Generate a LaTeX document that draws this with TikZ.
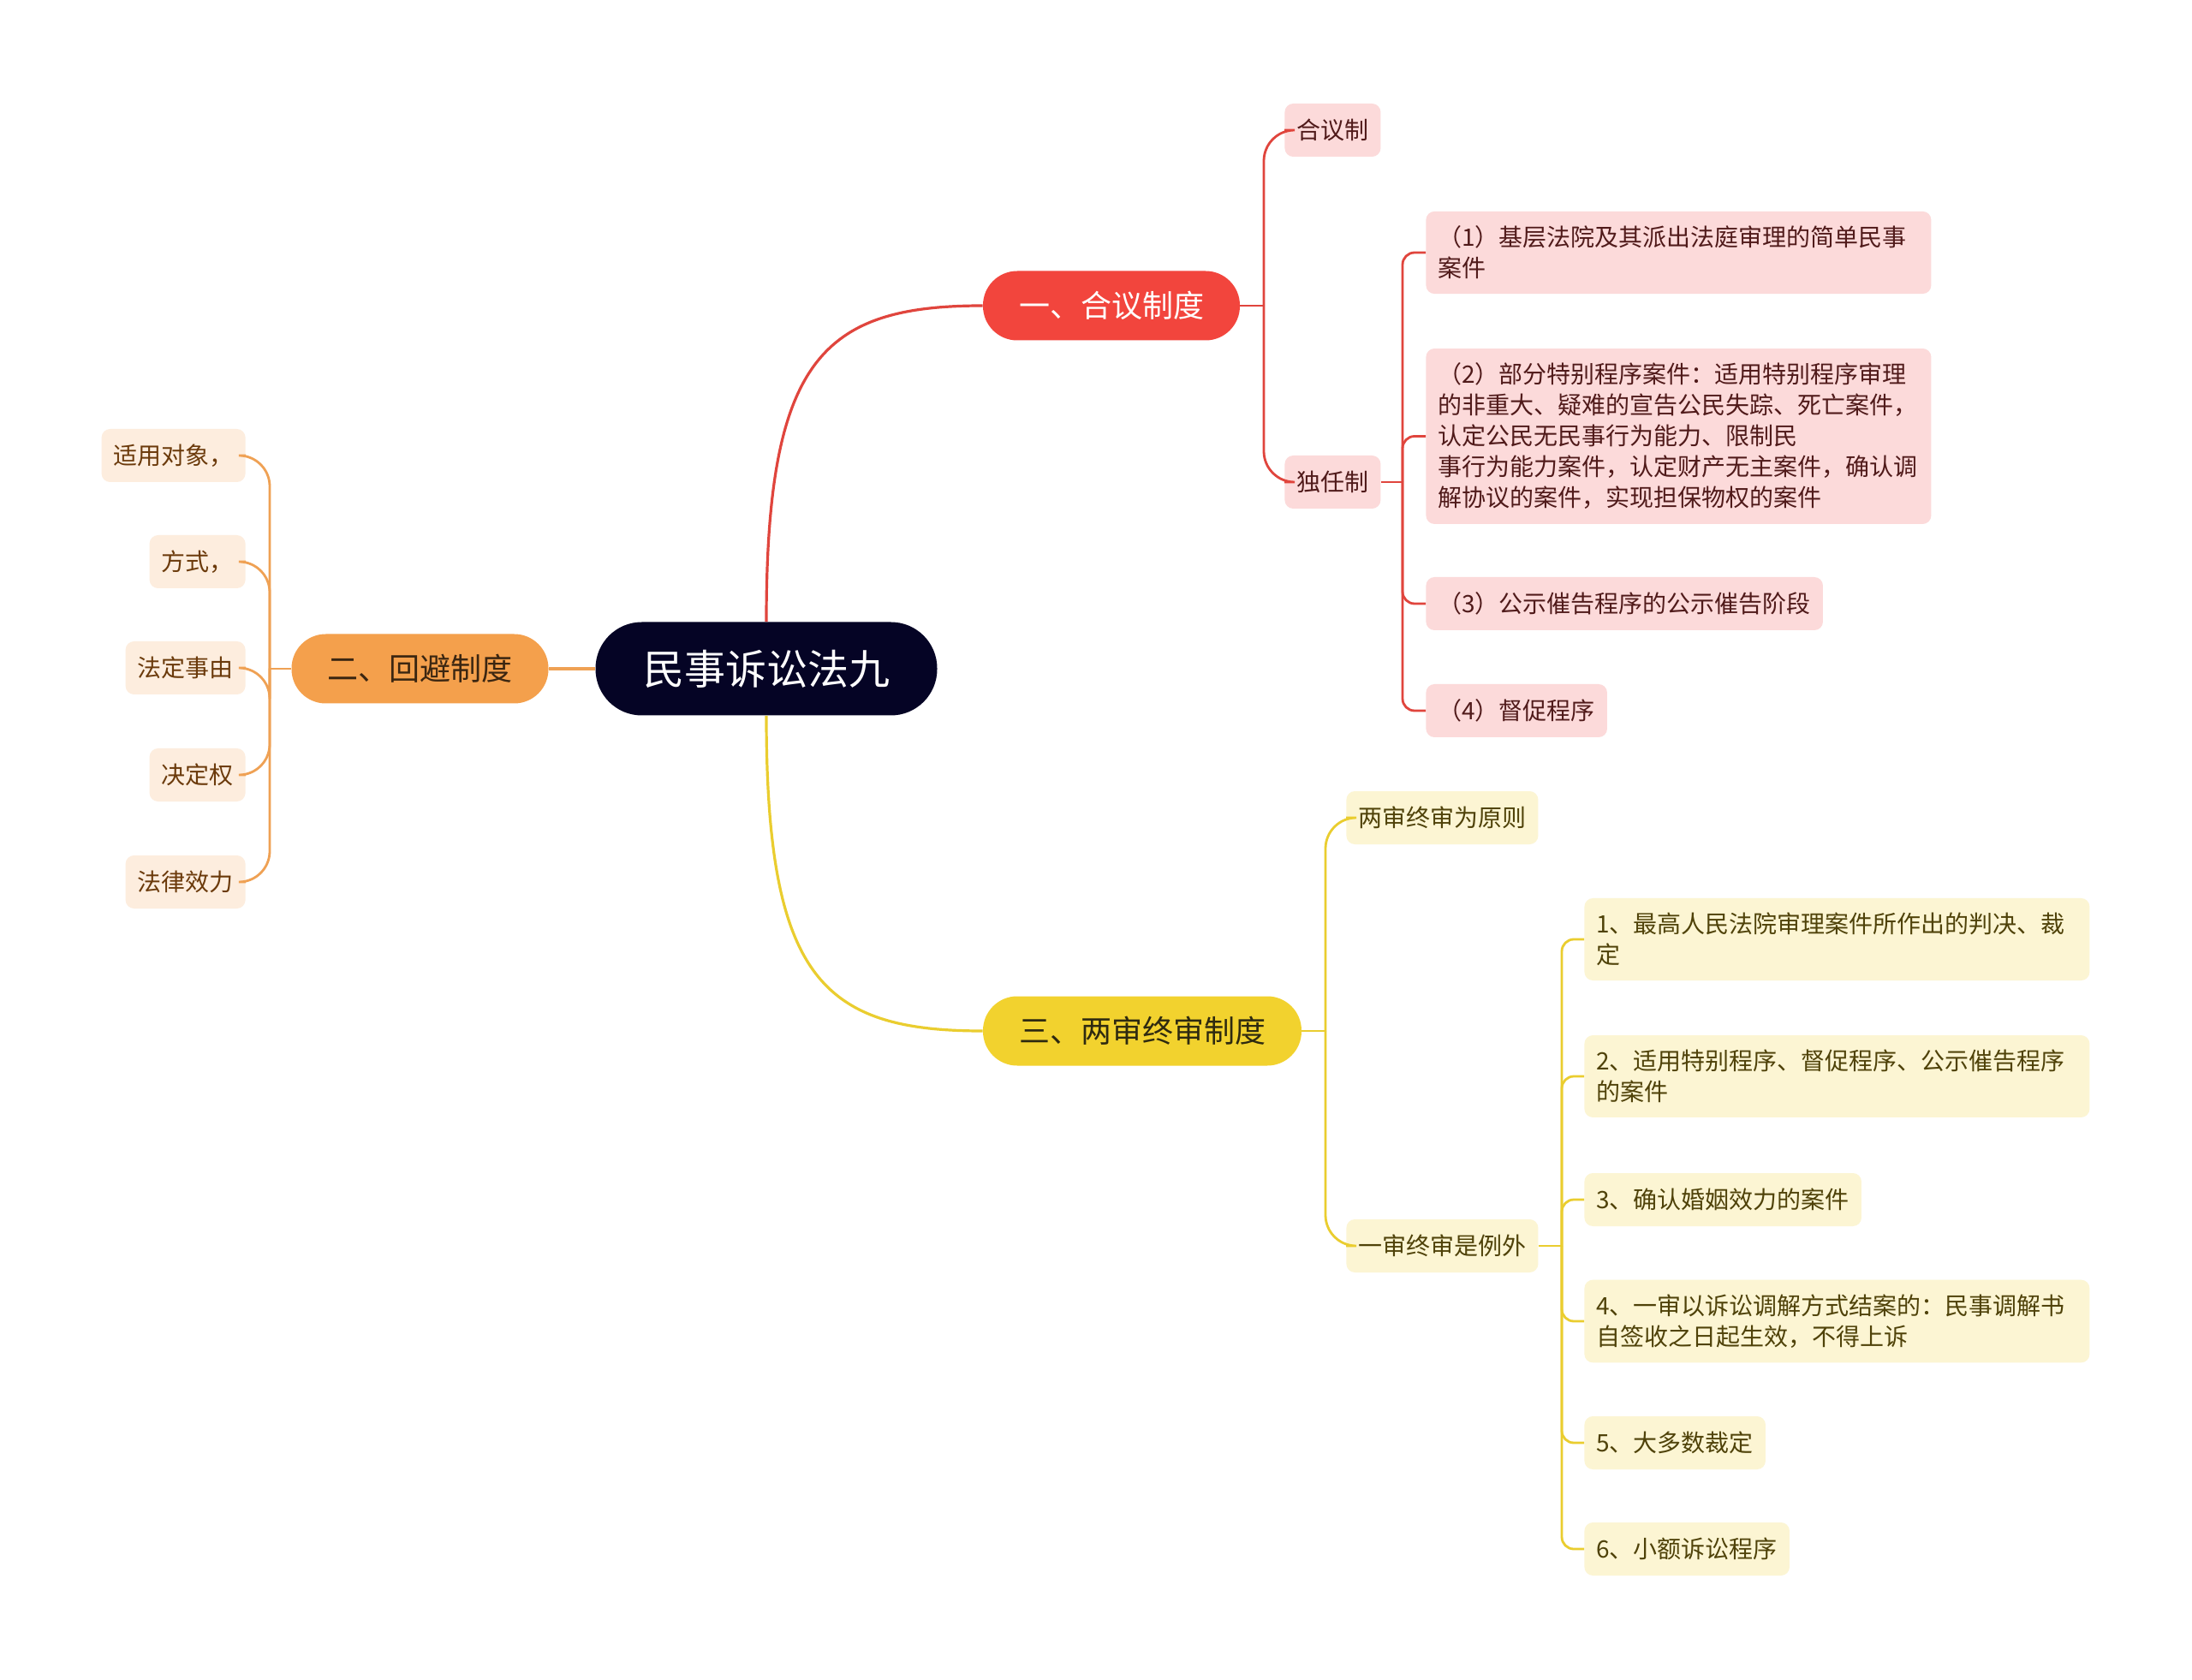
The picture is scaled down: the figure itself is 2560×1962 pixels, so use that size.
\documentclass[tikz,border=0pt]{standalone}
\usepackage{fontspec}
\setmainfont{Noto Sans CJK SC}
\usepackage{tikz}
\usetikzlibrary{positioning, calc}
\definecolor{RootNavy}   {RGB}{  5,   4,  37}
\definecolor{HyRed}      {RGB}{242,  69,  61}
\definecolor{HyLine}     {RGB}{224,  69,  61}
\definecolor{HyLeaf}     {RGB}{252, 218, 218}
\definecolor{HyText}     {RGB}{ 80,  26,  26}
\definecolor{BzOrange}   {RGB}{244, 160,  76}
\definecolor{BzLine}     {RGB}{239, 161,  84}
\definecolor{BzLeaf}     {RGB}{253, 237, 222}
\definecolor{BzText}     {RGB}{107,  58,  11}
\definecolor{BzDark}     {RGB}{ 59,  38,  17}
\definecolor{LsYellow}   {RGB}{242, 210,  46}
\definecolor{LsLine}     {RGB}{234, 205,  47}
\definecolor{LsLeaf}     {RGB}{252, 245, 211}
\definecolor{LsText}     {RGB}{ 79,  66,   9}
\definecolor{LsDark}     {RGB}{ 46,  42,  16}

\tikzset{
  rootbox/.style={fill=RootNavy, text=white, rounded corners=27pt,
                  minimum height=54.5pt, inner xsep=27.75pt,
                  font=\fontsize{24pt}{28pt}\selectfont},
  branchbox/.style={rounded corners=20pt, minimum height=40.5pt,
                    inner xsep=21pt, font=\fontsize{18pt}{22pt}\selectfont},
  leafbox/.style={rounded corners=5pt, inner xsep=7pt, inner ysep=8.5pt,
                  minimum height=31pt, align=left,
                  font=\fontsize{14pt}{18pt}\selectfont},
  widebox/.style={leafbox, text width=281pt},
  hyleaf/.style={leafbox, fill=HyLeaf, text=HyText, anchor=west},
  bzleaf/.style={leafbox, fill=BzLeaf, text=BzText, anchor=east},
  lsleaf/.style={leafbox, fill=LsLeaf, text=LsText, anchor=west},
  mainline/.style={line width=1.6pt},
  subline/.style={line width=1.4pt, rounded corners=18pt},
  twigline/.style={line width=1.4pt, rounded corners=7pt}
}

\begin{document}
\begin{tikzpicture}[x=0.5pt, y=-0.5pt]
  \useasboundingbox[fill=white] (0,0) rectangle (2560,1962);

  \node[rootbox] (root) at (895,781) {民事诉讼法九};

  \node[branchbox, fill=HyRed, text=white] (hy) at (1298,357) {一、合议制度};
  \node[branchbox, fill=BzOrange, text=BzDark] (bz) at (490.5,781) {二、回避制度};
  \node[branchbox, fill=LsYellow, text=LsDark] (ls) at (1334,1204) {三、两审终审制度};

  \draw[mainline, HyLine] (root.north) .. controls (895,420) and (960,357) .. (hy.west);
  \draw[mainline, LsLine] (root.south) .. controls (895,1142) and (960,1204) .. (ls.west);
  \draw[mainline, BzLine] (root.west) -- (bz.east);

  % 一、合议制度
  \node[hyleaf] (hyhe) at (1500,152) {合议制};
  \node[hyleaf] (hydu) at (1500,563) {独任制};
  \node[hyleaf, widebox] (hya) at (1665,295)
    {（1）基层法院及其派出法庭审理的简单民事\\案件};
  \node[hyleaf, widebox] (hyb) at (1665,509.5)
    {（2）部分特别程序案件：适用特别程序审理\\的非重大、疑难的宣告公民失踪、死亡案件，\\认定公民无民事行为能力、限制民\\事行为能力案件，认定财产无主案件，确认调\\解协议的案件，实现担保物权的案件};
  \node[hyleaf] (hyc) at (1665,705) {（3）公示催告程序的公示催告阶段};
  \node[hyleaf] (hyd) at (1665,830) {（4）督促程序};

  \coordinate (hyfork) at (1476,357);
  \coordinate (dufork) at (1638,563);
  \draw[subline, HyLine] (hy.east) -- (hyfork);
  \foreach \n in {hyhe, hydu}
    \draw[subline, HyLine] (hyfork) |- (\n.west);
  \draw[twigline, HyLine] (hydu.east) -- (dufork);
  \foreach \n in {hya, hyb, hyc, hyd}
    \draw[twigline, HyLine] (dufork) |- (\n.west);

  % 二、回避制度
  \node[bzleaf] (bza) at (287,532) {适用对象，};
  \node[bzleaf] (bzb) at (287,656) {方式，};
  \node[bzleaf] (bzc) at (287,780) {法定事由};
  \node[bzleaf] (bzd) at (287,905) {决定权};
  \node[bzleaf] (bze) at (287,1030) {法律效力};

  \coordinate (bzfork) at (315,781);
  \draw[subline, BzLine] (bz.west) -- (bzfork);
  \foreach \n in {bza, bzb, bzc, bzd, bze}
    \draw[subline, BzLine] (bzfork) |- (\n.east);

  % 三、两审终审制度
  \node[lsleaf] (lsyz) at (1572,955) {两审终审为原则};
  \node[lsleaf] (lsli) at (1572,1455) {一审终审是例外};
  \node[lsleaf, widebox] (lsa) at (1850,1097)
    {1、最高人民法院审理案件所作出的判决、裁\\定};
  \node[lsleaf, widebox] (lsb) at (1850,1257)
    {2、适用特别程序、督促程序、公示催告程序\\的案件};
  \node[lsleaf] (lsc) at (1850,1401) {3、确认婚姻效力的案件};
  \node[lsleaf, widebox] (lsd) at (1850,1543)
    {4、一审以诉讼调解方式结案的：民事调解书\\自签收之日起生效，不得上诉};
  \node[lsleaf] (lse) at (1850,1685) {5、大多数裁定};
  \node[lsleaf] (lsf) at (1850,1809) {6、小额诉讼程序};

  \coordinate (lsfork) at (1548,1204);
  \coordinate (lifork) at (1824,1455);
  \draw[subline, LsLine] (ls.east) -- (lsfork);
  \foreach \n in {lsyz, lsli}
    \draw[subline, LsLine] (lsfork) |- (\n.west);
  \draw[twigline, LsLine] (lsli.east) -- (lifork);
  \foreach \n in {lsa, lsb, lsc, lsd, lse, lsf}
    \draw[twigline, LsLine] (lifork) |- (\n.west);
\end{tikzpicture}
\end{document}
